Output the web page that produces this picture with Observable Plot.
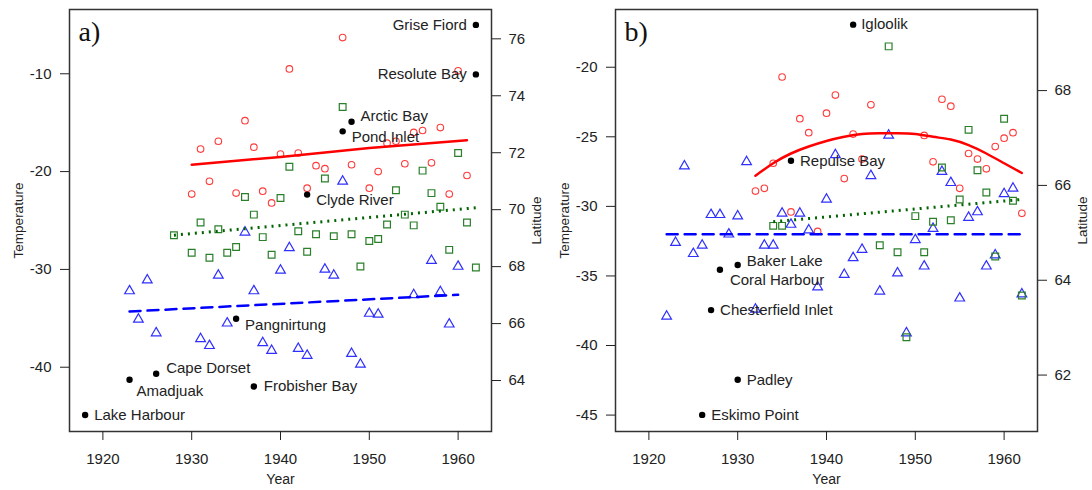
<!DOCTYPE html>
<html><head><meta charset="utf-8">
<script src="https://cdn.jsdelivr.net/npm/d3@7"></script>
<script src="https://cdn.jsdelivr.net/npm/@observablehq/plot@0.6"></script>
<style>
html,body{margin:0;padding:0;background:#fff;}
#wrap{display:flex;width:1092px;height:490px;}
.panel{position:relative;width:546px;height:490px;}
.panel svg{position:absolute;left:0;top:0;}
</style></head>
<body><div id="wrap"><div class="panel" id="pa"></div><div class="panel" id="pb"></div></div>
<script>
// ---------- shared ----------
const yearTicks = [1920, 1930, 1940, 1950, 1960];

// ---------- panel a ----------
const aRedYear = [1930,1931,1932,1933,1935,1936,1937,1938,1939,1940,1941,1942,1943,1944,1945,1947,1948,1950,1951,1952,1953,1954,1955,1956,1957,1958,1959,1960,1961];
const aRedTemp = [-22.3,-17.7,-21.0,-16.9,-22.2,-14.8,-17.5,-22.0,-23.2,-18.2,-9.5,-18.1,-21.7,-19.4,-19.7,-6.3,-19.3,-21.7,-20.0,-17.1,-16.9,-19.2,-16.0,-15.8,-19.1,-15.5,-22.3,-9.7,-20.4];
const aGreenYear = [1928,1930,1931,1932,1933,1934,1935,1936,1937,1938,1939,1940,1941,1942,1943,1944,1945,1946,1947,1948,1949,1950,1951,1952,1953,1954,1955,1956,1957,1958,1959,1960,1961,1962];
const aGreenTemp = [-26.5,-28.3,-25.2,-28.8,-25.9,-28.3,-27.7,-22.6,-24.4,-26.7,-28.5,-22.7,-19.5,-26.1,-28.2,-26.4,-20.7,-26.6,-13.4,-26.4,-29.7,-27.1,-26.9,-25.4,-21.9,-24.4,-25.5,-19.9,-22.2,-23.6,-28.0,-18.1,-25.2,-29.8];
const aBlueYear = [1923,1924,1925,1926,1931,1932,1933,1934,1936,1937,1938,1939,1940,1941,1942,1943,1945,1946,1947,1948,1949,1950,1951,1955,1957,1958,1959,1960];
const aBlueTemp = [-32.2,-35.1,-31.1,-36.5,-37.1,-37.8,-30.6,-35.5,-26.2,-32.2,-37.5,-38.3,-30.1,-27.8,-38.1,-38.8,-30.0,-30.6,-21.0,-38.6,-39.7,-34.5,-34.6,-32.6,-29.1,-32.3,-35.6,-29.7];
const aRedFitYear = [1930, 1940, 1950, 1961];
const aRedFitTemp = [-19.3, -18.5, -17.6, -16.8];
const aGreenFitYear = [1928, 1962];
const aGreenFitTemp = [-26.5, -23.7];
const aBlueFitYear = [1923, 1960];
const aBlueFitTemp = [-34.3, -32.6];
const aStationName = ["Grise Fiord","Resolute Bay","Arctic Bay","Pond Inlet","Clyde River","Pangnirtung","Frobisher Bay","Cape Dorset","Amadjuak","Lake Harbour"];
const aStationYear = [1962,1962,1948,1947,1943,1935,1937,1926,1923,1918];
const aStationLat = [76.49,74.75,73.09,72.75,70.53,66.17,63.79,64.24,64.03,62.79];
const aTempTicks = [-40,-30,-20,-10];
const aLatTicks = [64,66,68,70,72,74,76];

// ---------- panel b ----------
const bRedYear = [1932,1933,1934,1935,1936,1937,1938,1939,1940,1941,1942,1943,1944,1945,1951,1952,1953,1954,1955,1956,1957,1958,1959,1960,1961,1962];
const bRedTemp = [-28.9,-28.7,-26.9,-20.7,-30.4,-23.7,-24.7,-31.8,-23.3,-22.0,-28.0,-24.8,-26.6,-22.7,-24.9,-26.8,-22.3,-22.8,-28.7,-26.2,-26.6,-27.3,-25.7,-25.1,-24.7,-30.5];
const bGreenYear = [1934,1935,1946,1947,1948,1949,1950,1951,1952,1953,1954,1955,1956,1957,1958,1959,1960,1961,1962];
const bGreenTemp = [-31.4,-31.4,-32.8,-18.5,-33.3,-39.4,-30.7,-33.3,-31.1,-27.2,-31.0,-29.5,-24.5,-27.4,-29.0,-33.6,-23.7,-29.6,-36.4];
const bBlueYear = [1922,1923,1924,1925,1926,1927,1928,1929,1930,1931,1932,1933,1934,1935,1936,1937,1938,1939,1940,1941,1942,1943,1944,1945,1946,1947,1948,1949,1950,1951,1952,1953,1954,1955,1956,1957,1958,1959,1960,1961,1962];
const bBlueTemp = [-37.9,-32.6,-27.1,-33.4,-32.8,-30.6,-30.6,-32.0,-30.7,-26.8,-37.4,-32.8,-32.8,-30.5,-31.3,-30.5,-31.7,-35.8,-29.5,-26.3,-34.9,-33.7,-33.1,-27.8,-36.1,-24.9,-34.8,-39.1,-32.4,-34.3,-31.6,-27.5,-28.3,-36.6,-30.8,-30.4,-34.3,-33.5,-29.1,-28.7,-36.3];
const bRedFitYear = [1932,1934,1936,1938,1940,1942,1944,1946,1948,1950,1952,1954,1956,1958,1960,1962];
const bRedFitTemp = [-27.8,-26.9,-26.2,-25.7,-25.3,-25.0,-24.8,-24.75,-24.75,-24.8,-25.0,-25.2,-25.6,-26.2,-26.9,-27.6];
const bGreenFitYear = [1934, 1962];
const bGreenFitTemp = [-31.1, -29.5];
const bBlueFitYear = [1922, 1962];
const bBlueFitTemp = [-32.0, -32.0];
const bStationName = ["Igloolik","Repulse Bay","Baker Lake","Coral Harbour","Chesterfield Inlet","Padley","Eskimo Point"];
const bStationYear = [1943,1936,1930,1928,1927,1930,1926];
const bStationLat = [69.39,66.52,64.32,64.22,63.37,61.90,61.16];
const bTempTicks = [-45,-40,-35,-30,-25,-20];
const bLatTicks = [62,64,66,68];

// ---------- layout / style (not data) ----------
const W = 546, H = 490;
const M = {marginLeft: 69, marginRight: 55, marginTop: 9, marginBottom: 59};
const xDomain = [1916.24, 1963.76];
const FONT = "'Liberation Sans', Arial, Helvetica, sans-serif";
const TXT = "#222";
const labelPlacement = {
  "Grise Fiord": [-9, 0, "end"], "Resolute Bay": [-9, 0, "end"], "Arctic Bay": [9, -6, "start"],
  "Pond Inlet": [9, 6, "start"], "Clyde River": [9, 6, "start"], "Pangnirtung": [9, 6, "start"],
  "Frobisher Bay": [10, 0, "start"], "Cape Dorset": [10, -6, "start"], "Amadjuak": [7, 12, "start"],
  "Lake Harbour": [9, 0, "start"],
  "Igloolik": [8, 0, "start"], "Repulse Bay": [9, 0, "start"], "Baker Lake": [9, -4, "start"],
  "Coral Harbour": [10, 10, "start"], "Chesterfield Inlet": [9, 0, "start"], "Padley": [9, 0, "start"],
  "Eskimo Point": [9, 0, "start"]
};

const pts = (xs, ys) => xs.map((x, i) => ({x, y: ys[i]}));

function drawPanel(el, c) {
  const fmt = d => String(d);
  const main = Plot.plot({
    width: W, height: H, ...M,
    style: {fontFamily: FONT, fontSize: "15px", color: TXT, background: "transparent"},
    x: {domain: xDomain},
    y: {domain: c.tempDomain},
    marks: [
      Plot.dot(pts(c.blueYear, c.blueTemp), {x: "x", y: "y", symbol: "triangle", r: 3.6, stroke: "#2f2fff", strokeWidth: 1.2, fill: "none"}),
      Plot.dot(pts(c.greenYear, c.greenTemp), {x: "x", y: "y", symbol: "square", r: 3.8, stroke: "#2a7f2a", strokeWidth: 1.2, fill: "none"}),
      Plot.dot(pts(c.redYear, c.redTemp), {x: "x", y: "y", symbol: "circle", r: 3.3, stroke: "#ff3a3a", strokeWidth: 1.1, fill: "none"}),
      Plot.line(pts(c.redFitYear, c.redFitTemp), {x: "x", y: "y", stroke: "#ff0000", strokeWidth: 2.5, curve: c.redCurve}),
      Plot.line(pts(c.greenFitYear, c.greenFitTemp), {x: "x", y: "y", stroke: "#006400", strokeWidth: 3, strokeDasharray: "2,5", strokeLinecap: "butt"}),
      Plot.line(pts(c.blueFitYear, c.blueFitTemp), {x: "x", y: "y", stroke: "#0000ff", strokeWidth: 2.5, strokeDasharray: "11,7"}),
      Plot.frame({stroke: "#333", strokeWidth: 1.5}),
      Plot.axisX({ticks: yearTicks, tickSize: 9, tickPadding: 13, tickFormat: fmt, label: null, fontSize: 15}),
      Plot.axisY({ticks: c.tempTicks, tickSize: 9, tickPadding: 9, tickFormat: fmt, label: null, fontSize: 15}),
      Plot.text(["Temperature"], {text: d => d, frameAnchor: "left", dx: -51, rotate: -90, textAnchor: "middle", lineAnchor: "middle", fontSize: 13.5, fill: TXT}),
      Plot.text(["Year"], {text: d => d, frameAnchor: "bottom", dy: 48, textAnchor: "middle", lineAnchor: "middle", fontSize: 14, fill: TXT}),
      Plot.text([c.tag], {text: d => d, frameAnchor: "top-left", dx: 9, dy: 31, textAnchor: "start", lineAnchor: "bottom",
        fontFamily: "'Liberation Serif', 'Times New Roman', serif", fontSize: 28, fill: "#111"})
    ]
  });
  const stations = c.stName.map((name, i) => ({name, year: c.stYear[i], lat: c.stLat[i]}));
  const over = Plot.plot({
    width: W, height: H, ...M,
    style: {fontFamily: FONT, fontSize: "15px", color: TXT, background: "transparent"},
    x: {domain: xDomain, axis: null},
    y: {domain: c.latDomain},
    marks: [
      Plot.dot(stations, {x: "year", y: "lat", r: 3.2, fill: "#000", stroke: "none"}),
      ...stations.map(s => {
        const [dx, dy, anchor] = labelPlacement[s.name];
        return Plot.text([s], {x: "year", y: "lat", text: "name", dx, dy, textAnchor: anchor, lineAnchor: "middle", fontSize: 15, fill: TXT});
      }),
      Plot.axisY({anchor: "right", ticks: c.latTicks, tickSize: 9, tickPadding: 8, tickFormat: fmt, label: null, fontSize: 15}),
      Plot.text(["Latitude"], {text: d => d, frameAnchor: "right", dx: 45, rotate: -90, textAnchor: "middle", lineAnchor: "middle", fontSize: 13.5, fill: TXT})
    ]
  });
  el.appendChild(main);
  el.appendChild(over);
}

drawPanel(document.getElementById("pa"), {
  tag: "a)", tempDomain: [-46.57, -3.43], latDomain: [62.21, 77.03],
  redYear: aRedYear, redTemp: aRedTemp, greenYear: aGreenYear, greenTemp: aGreenTemp, blueYear: aBlueYear, blueTemp: aBlueTemp,
  redFitYear: aRedFitYear, redFitTemp: aRedFitTemp, redCurve: "linear",
  greenFitYear: aGreenFitYear, greenFitTemp: aGreenFitTemp, blueFitYear: aBlueFitYear, blueFitTemp: aBlueFitTemp,
  stName: aStationName, stYear: aStationYear, stLat: aStationLat, tempTicks: aTempTicks, latTicks: aLatTicks
});
drawPanel(document.getElementById("pb"), {
  tag: "b)", tempDomain: [-46.18, -15.85], latDomain: [60.81, 69.71],
  redYear: bRedYear, redTemp: bRedTemp, greenYear: bGreenYear, greenTemp: bGreenTemp, blueYear: bBlueYear, blueTemp: bBlueTemp,
  redFitYear: bRedFitYear, redFitTemp: bRedFitTemp, redCurve: "natural",
  greenFitYear: bGreenFitYear, greenFitTemp: bGreenFitTemp, blueFitYear: bBlueFitYear, blueFitTemp: bBlueFitTemp,
  stName: bStationName, stYear: bStationYear, stLat: bStationLat, tempTicks: bTempTicks, latTicks: bLatTicks
});
</script>
</body></html>
